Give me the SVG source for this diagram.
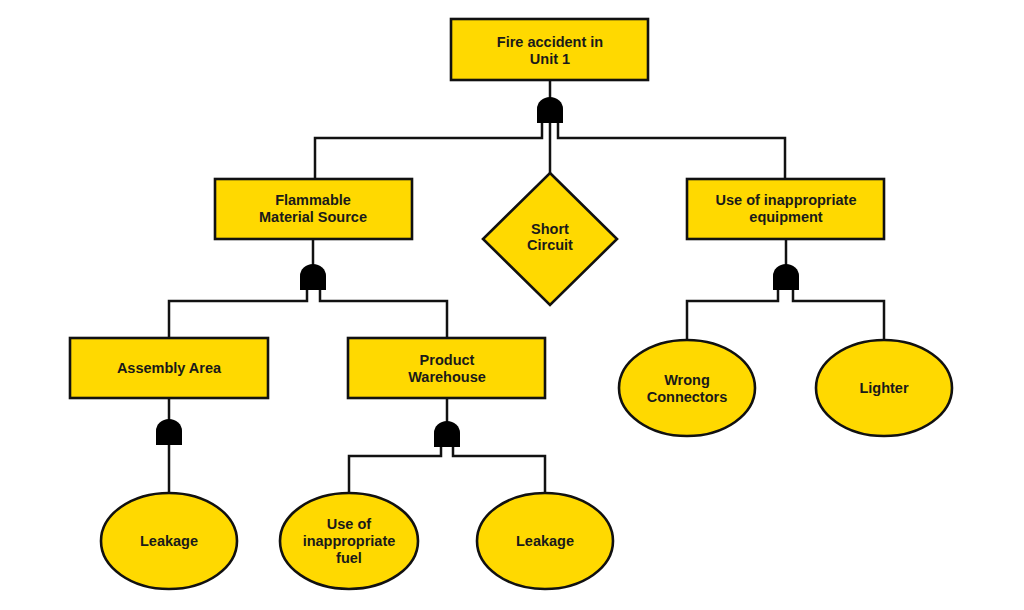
<svg xmlns="http://www.w3.org/2000/svg" width="1024" height="610" viewBox="0 0 1024 610">
<style>
.box{fill:#FFD900;stroke:#111;stroke-width:2.6}
.ln{fill:none;stroke:#111;stroke-width:2.5}
.gate{fill:#000}
text{font-family:"Liberation Sans",Arial,sans-serif;font-weight:bold;font-size:14.5px;fill:#1a1a1a;text-anchor:middle}
</style>
<defs>
<path id="and" d="M-13,13 L-13,-1 A13,12 0 0 1 13,-1 L13,13 Z"/>
</defs>
<rect width="1024" height="610" fill="#fff"/>
<g id="connectors">
<path class="ln" d="M550,80 V100"/>
<path class="ln" d="M542,122 V138 H315 V179"/>
<path class="ln" d="M558,122 V138 H785 V179"/>
<path class="ln" d="M550,122 V174"/>
<path class="ln" d="M313,239 V266"/>
<path class="ln" d="M307,289 V301 H169 V338"/>
<path class="ln" d="M320,289 V301 H447 V338"/>
<path class="ln" d="M169,398 V422"/>
<path class="ln" d="M169,444 V493"/>
<path class="ln" d="M447,398 V423"/>
<path class="ln" d="M441,446 V456 H349 V493"/>
<path class="ln" d="M453,446 V456 H545 V493"/>
<path class="ln" d="M786,239 V266"/>
<path class="ln" d="M778,289 V301 H687 V340"/>
<path class="ln" d="M793,289 V301 H884 V340"/>
</g>
<g id="gates">
<use href="#and" class="gate" x="550" y="110"/>
<use href="#and" class="gate" x="313" y="277"/>
<use href="#and" class="gate" x="169" y="432"/>
<use href="#and" class="gate" x="447" y="434"/>
<use href="#and" class="gate" x="786" y="277"/>
</g>
<g id="top">
<rect class="box" x="451" y="19" width="197" height="61"/>
<text x="550" y="47">Fire accident in</text>
<text x="550" y="64">Unit 1</text>
</g>
<g id="flammable">
<rect class="box" x="215" y="179" width="197" height="60"/>
<text x="313" y="205">Flammable</text>
<text x="313" y="222">Material Source</text>
</g>
<g id="short">
<polygon class="box" points="550,173 617,239 550,305 483,239"/>
<text x="550" y="234">Short</text>
<text x="550" y="250">Circuit</text>
</g>
<g id="equipment">
<rect class="box" x="687" y="179" width="197" height="60"/>
<text x="786" y="205">Use of inappropriate</text>
<text x="786" y="222">equipment</text>
</g>
<g id="assembly">
<rect class="box" x="70" y="338" width="198" height="60"/>
<text x="169" y="373">Assembly Area</text>
</g>
<g id="warehouse">
<rect class="box" x="348" y="338" width="197" height="60"/>
<text x="447" y="365">Product</text>
<text x="447" y="382">Warehouse</text>
</g>
<g id="leakage1">
<ellipse class="box" cx="169" cy="541" rx="68" ry="48"/>
<text x="169" y="546">Leakage</text>
</g>
<g id="fuel">
<ellipse class="box" cx="349" cy="541" rx="69" ry="48"/>
<text x="349" y="529">Use of</text>
<text x="349" y="546">inappropriate</text>
<text x="349" y="563">fuel</text>
</g>
<g id="leakage2">
<ellipse class="box" cx="545" cy="541" rx="68" ry="48"/>
<text x="545" y="546">Leakage</text>
</g>
<g id="connectors-node">
<ellipse class="box" cx="687" cy="388" rx="68" ry="48"/>
<text x="687" y="385">Wrong</text>
<text x="687" y="402">Connectors</text>
</g>
<g id="lighter">
<ellipse class="box" cx="884" cy="388" rx="68" ry="48"/>
<text x="884" y="393">Lighter</text>
</g>
</svg>
